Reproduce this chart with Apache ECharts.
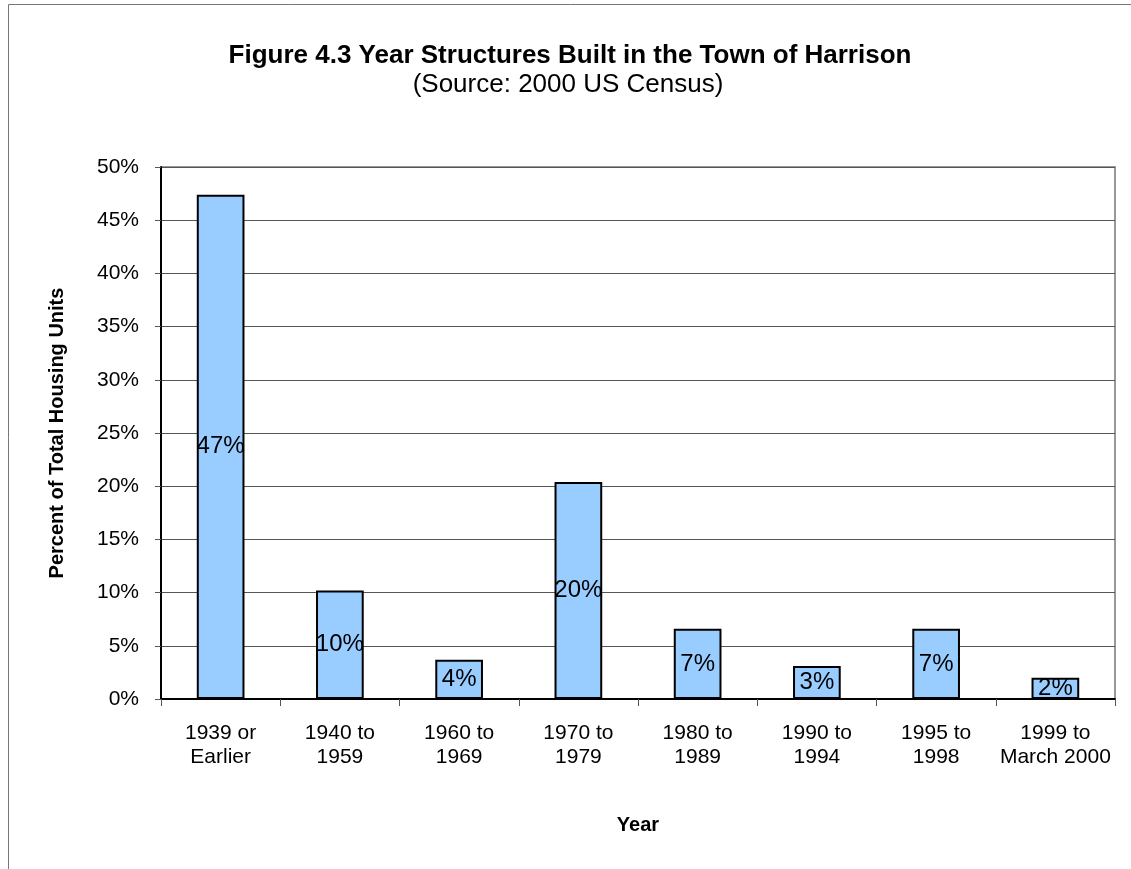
<!DOCTYPE html>
<html>
<head>
<meta charset="utf-8">
<script src="https://cdn.jsdelivr.net/npm/echarts@6/dist/echarts.min.js"></script>
<style>
  html, body { margin: 0; padding: 0; background: #fff; }
  #chart { width: 1131px; height: 869px; }
</style>
</head>
<body>
<div id="chart"></div>
<script>
// year built categories (Source: 2000 US Census)
const categories = ['1939 or\nEarlier', '1940 to\n1959', '1960 to\n1969', '1970 to\n1979',
  '1980 to\n1989', '1990 to\n1994', '1995 to\n1998', '1999 to\nMarch 2000'];
// percent of total housing units
const percents = [47.4, 10.2, 3.7, 20.4, 6.6, 3.1, 6.6, 2.0];
const yTicks = [0, 5, 10, 15, 20, 25, 30, 35, 40, 45, 50];

const myChart = echarts.init(document.getElementById('chart'));

const font = 'Liberation Sans, Arial, sans-serif';

const option = {
  backgroundColor: '#FFFFFF',
  animation: false,
  title: [
    {
      text: 'Figure 4.3 Year Structures Built in the Town of Harrison',
      left: 565,
      top: 38,
      textAlign: 'center',
      textStyle: { fontFamily: font, fontSize: 26, fontWeight: 'bold', color: '#000' }
    },
    {
      text: '(Source: 2000 US Census)',
      left: 563,
      top: 67,
      textAlign: 'center',
      textStyle: { fontFamily: font, fontSize: 26, fontWeight: 'normal', color: '#000' }
    }
  ],
  graphic: [
    {
      type: 'rect',
      shape: { x: 8.5, y: 4.5, width: 1140, height: 880 },
      style: { fill: 'none', stroke: '#777', lineWidth: 1 },
      silent: true
    },
    {
      // top and right edges of the plot area
      type: 'polyline',
      shape: { points: [[161, 167], [1115, 167], [1115, 699]] },
      style: { fill: 'none', stroke: '#999', lineWidth: 2 },
      silent: true
    }
  ],
  grid: {
    left: 161,
    right: 16,
    top: 167,
    bottom: 170,
    containLabel: false
  },
  xAxis: {
    type: 'category',
    data: categories,
    name: 'Year',
    nameLocation: 'middle',
    nameGap: 116,
    nameTextStyle: { fontFamily: font, fontSize: 20, fontWeight: 'bold', color: '#000' },
    axisLine: { lineStyle: { color: '#000', width: 2 } },
    axisTick: { show: true, alignWithLabel: false, length: 7, lineStyle: { color: '#555' } },
    axisLabel: {
      interval: 0,
      fontFamily: font,
      fontSize: 21,
      color: '#000',
      lineHeight: 24,
      margin: 22
    },
    splitLine: { show: false }
  },
  yAxis: {
    type: 'value',
    min: 0,
    max: 50,
    interval: 5,
    name: 'Percent of Total Housing Units',
    nameLocation: 'middle',
    nameGap: 94,
    nameTextStyle: { fontFamily: font, fontSize: 20, fontWeight: 'bold', color: '#000' },
    axisLine: { show: true, lineStyle: { color: '#000', width: 2 } },
    axisTick: { show: true, length: 6, lineStyle: { color: '#555' } },
    axisLabel: {
      fontFamily: font,
      fontSize: 21,
      color: '#000',
      margin: 22,
      formatter: v => (yTicks.includes(v) ? v + '%' : '')
    },
    splitLine: { show: true, lineStyle: { color: '#555', width: 1 } }
  },
  series: [
    {
      type: 'bar',
      data: percents,
      barWidth: '40%',
      itemStyle: { color: '#99CCFF', borderColor: '#000', borderWidth: 2 },
      label: {
        show: true,
        position: 'inside',
        fontFamily: font,
        fontSize: 24,
        color: '#000',
        formatter: p => Math.round(p.value) + '%'
      }
    }
  ]
};

myChart.setOption(option);
</script>
</body>
</html>
